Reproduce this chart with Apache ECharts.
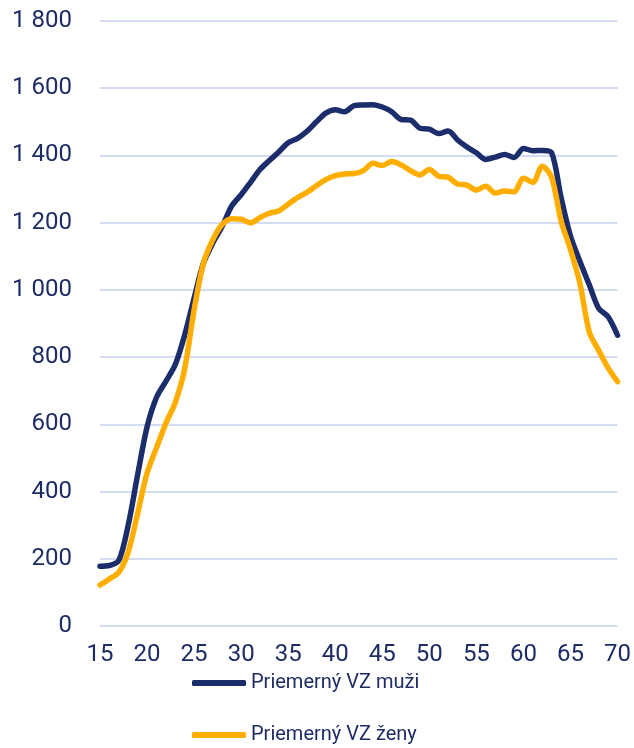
<!DOCTYPE html>
<html>
<head>
<meta charset="utf-8">
<script src="https://cdn.jsdelivr.net/npm/echarts@6/dist/echarts.min.js"></script>
<style>html,body{margin:0;padding:0;background:#fff}#c{width:634px;height:748px}</style>
</head>
<body>
<div id="c"></div>
<script>
const ages = [15,16,17,18,19,20,21,22,23,24,25,26,27,28,29,30,31,32,33,34,35,36,37,38,39,40,41,42,43,44,45,46,47,48,49,50,51,52,53,54,55,56,57,58,59,60,61,62,63,64,65,66,67,68,69,70];
const muzi = [178,180,195,300,450,592,680,728,778,866,975,1080,1140,1190,1250,1283,1320,1358,1385,1410,1438,1451,1472,1500,1526,1536,1530,1548,1550,1551,1544,1530,1507,1505,1481,1478,1465,1473,1446,1425,1408,1388,1395,1403,1394,1421,1414,1415,1408,1275,1160,1085,1015,945,920,865];
const zeny = [122,140,160,220,335,455,530,603,665,765,940,1080,1150,1195,1212,1210,1200,1215,1228,1235,1255,1275,1290,1310,1328,1340,1345,1346,1355,1377,1370,1382,1372,1355,1342,1358,1338,1335,1315,1312,1297,1308,1288,1294,1292,1332,1320,1368,1335,1205,1120,1020,875,820,768,727];
const seriesNames = ['Priemerný VZ muži','Priemerný VZ ženy'];

const navy = '#1B2D6B', orange = '#FFAE00', txt = '#1E2C66';
const legendBase = {
  orient: 'vertical', left: 192, itemWidth: 54, itemHeight: 6, itemGap: 0, height: 30, padding: 0,
  textStyle: {color: txt, fontSize: 20, lineHeight: 26, fontFamily: 'Roboto'}
};
const chart = echarts.init(document.getElementById('c'));
chart.setOption({
  animation: false,
  textStyle: {fontFamily: 'Roboto'},
  grid: {left: 100, right: 14, top: 21, bottom: 122},
  legend: [
    Object.assign({}, legendBase, {top: 670, data: [{name: seriesNames[0], icon: 'roundRect'}]}),
    Object.assign({}, legendBase, {top: 722, data: [{name: seriesNames[1], icon: 'roundRect'}]})
  ],
  xAxis: {
    type: 'value', min: 15, max: 70, interval: 5,
    axisLine: {show: false}, axisTick: {show: false}, splitLine: {show: false},
    axisLabel: {color: txt, fontSize: 24, margin: 17, fontFamily: 'Roboto'}
  },
  yAxis: {
    type: 'value', min: 0, max: 1800, interval: 200,
    axisLine: {show: false}, axisTick: {show: false},
    splitLine: {lineStyle: {color: '#D3DCF3', width: 2}},
    axisLabel: {color: txt, fontSize: 24, margin: 28, fontFamily: 'Roboto',
      formatter: v => String(v).replace(/\B(?=(\d{3})+(?!\d))/g, ' ')}
  },
  series: [
    {name: seriesNames[0], type: 'line', smooth: 0.3, symbol: 'none', data: ages.map((a,i)=>[a,muzi[i]]),
     lineStyle: {color: navy, width: 5.5, cap: 'round'}, itemStyle: {color: navy}},
    {name: seriesNames[1], type: 'line', smooth: 0.3, symbol: 'none', data: ages.map((a,i)=>[a,zeny[i]]),
     lineStyle: {color: orange, width: 5.5, cap: 'round'}, itemStyle: {color: orange}}
  ]
});
</script>
</body>
</html>
